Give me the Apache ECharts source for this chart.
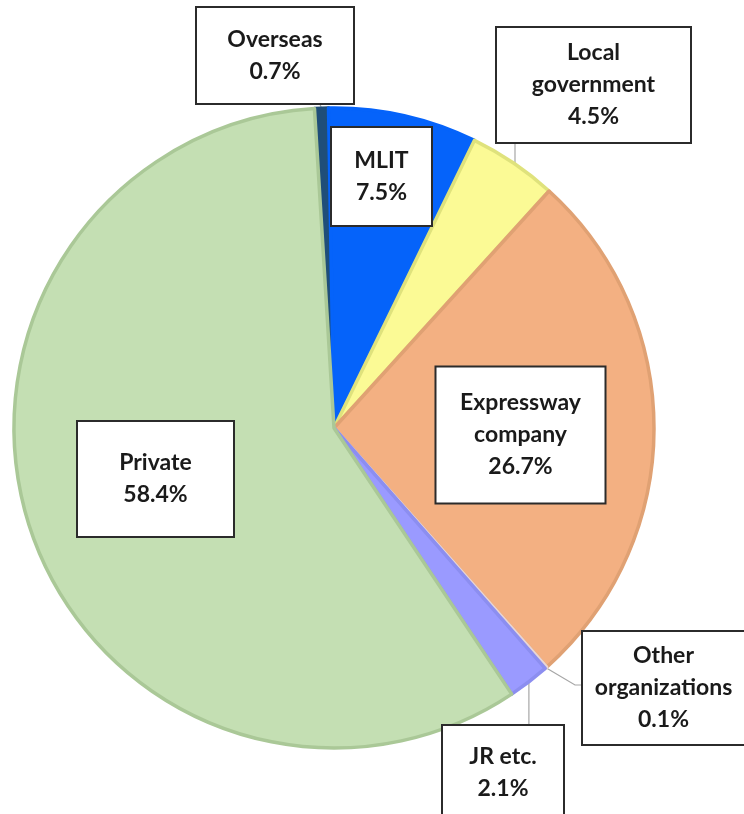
<!DOCTYPE html>
<html>
<head>
<meta charset="utf-8">
<title>Share by client</title>
<script src="https://cdn.jsdelivr.net/npm/echarts@6/dist/echarts.min.js"></script>
<style>
  html, body { margin: 0; padding: 0; background: #ffffff; }
  #chart { width: 744px; height: 814px; }
</style>
</head>
<body>
<div id="chart"></div>
<script>
// Client categories, clockwise from the top
const categories = ['Overseas', 'MLIT', 'Local government', 'Expressway company', 'Other organizations', 'JR etc.', 'Private'];
// Share of each category (%)
const shares = [0.7, 7.5, 4.5, 26.7, 0.1, 2.1, 58.4];
// Label text as wrapped in the boxes
const labelNames = ['Overseas', 'MLIT', 'Local\ngovernment', 'Expressway\ncompany', 'Other\norganizations', 'JR etc.', 'Private'];

// Slice colours and their slightly darker outlines
const fills = ['#1f4e79', '#0563fa', '#fbfa95', '#f3b082', '#f7ecec', '#9a9aff', '#c4dfb3'];
const edges = ['#1f4e79', '#0563fa', '#dfe27c', '#e0a173', '#e8d6d6', '#8c8ef0', '#aac897'];

// Pie geometry
const CX = 334, CY = 428, R = 320, START = 93.5;

// Label boxes: centre and outer size
const boxes = [
  { cx: 275,   cy: 55.5,  w: 156, h: 95 },
  { cx: 381.5, cy: 176.5, w: 99,  h: 97 },
  { cx: 593.5, cy: 85,    w: 193, h: 114 },
  { cx: 520.5, cy: 435,   w: 168, h: 135 },
  { cx: 663.5, cy: 688,   w: 161, h: 112 },
  { cx: 503,   cy: 773,   w: 120, h: 94 },
  { cx: 155.5, cy: 479,   w: 155, h: 114 }
];
const LINE_H = 32;
const withLeader = [true, false, true, false, true, true, false];

const total = shares.reduce((a, b) => a + b, 0);
// Point on the rim at the middle of slice i
function rimMid(i) {
  let before = 0;
  for (let k = 0; k < i; k++) before += shares[k];
  const ang = (START - 360 * (before + shares[i] / 2) / total) * Math.PI / 180;
  return [CX + R * Math.cos(ang), CY - R * Math.sin(ang)];
}
// Upper rim point at a given x
function rimTopAt(x) {
  return CY - Math.sqrt(R * R - (x - CX) * (x - CX));
}

function leader(i) {
  const b = boxes[i];
  const top = b.cy - b.h / 2, bottom = b.cy + b.h / 2, left = b.cx - b.w / 2;
  const s = rimMid(i);
  if (i === 0) return [s, [s[0] - 2, bottom]];
  if (i === 2) { const lx = left + 18; return [[lx, rimTopAt(lx)], [lx, bottom]]; }
  if (i === 4) return [s, [left - 8, b.cy - 3], [left, b.cy - 3]];
  if (i === 5) return [s, [s[0], top]];
  return null;
}

const seriesData = categories.map((name, i) => {
  const lines = labelNames[i].split('\n').length + 1;
  const padV = (boxes[i].h - lines * LINE_H) / 2;
  return {
    name: name,
    value: shares[i],
    itemStyle: { color: fills[i], borderColor: edges[i] },
    label: { width: boxes[i].w, padding: [padV, 0, padV, 0] },
    labelLine: { show: withLeader[i] }
  };
});

const chart = echarts.init(document.getElementById('chart'), null, { renderer: 'canvas' });
chart.setOption({
  animation: false,
  backgroundColor: '#ffffff',
  series: [{
    type: 'pie',
    center: [CX, CY],
    radius: [0, R],
    startAngle: START,
    clockwise: true,
    avoidLabelOverlap: false,
    silent: true,
    itemStyle: { borderWidth: 3.5 },
    emphasis: { disabled: true },
    label: {
      show: true,
      position: 'outside',
      formatter: p => labelNames[p.dataIndex] + '\n' + p.value.toFixed(1) + '%',
      fontFamily: 'Lato, "Open Sans", sans-serif',
      fontWeight: 'bold',
      fontSize: 23,
      lineHeight: LINE_H,
      color: '#1a1a1a',
      align: 'center',
      backgroundColor: '#ffffff',
      borderColor: '#2b2b2b',
      borderWidth: 2
    },
    labelLine: {
      lineStyle: { color: '#a6a6a6', width: 1.2 }
    },
    labelLayout: function (params) {
      const i = params.dataIndex;
      const out = { x: boxes[i].cx, y: boxes[i].cy, align: 'center', verticalAlign: 'middle' };
      const pts = leader(i);
      if (pts) out.labelLinePoints = pts;
      return out;
    },
    data: seriesData
  }]
});
</script>
</body>
</html>
